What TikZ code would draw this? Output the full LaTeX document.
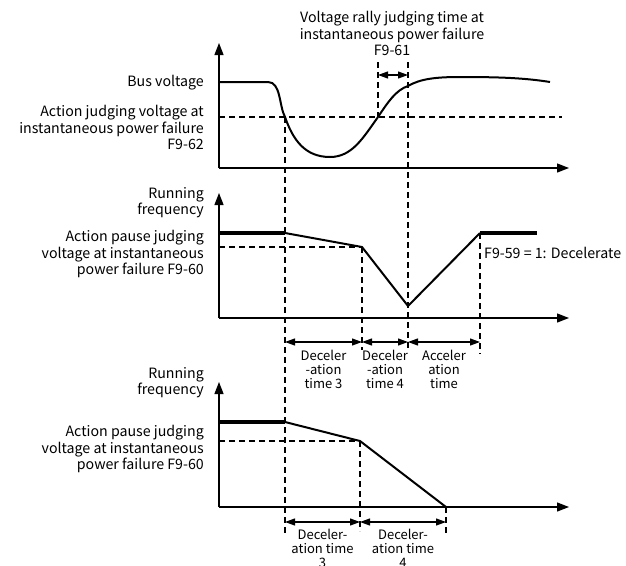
\documentclass[tikz,border=0pt]{standalone}
\usepackage{fontspec}
\setmainfont{Noto Sans CJK SC}
\usetikzlibrary{arrows.meta, positioning, calc}

\tikzset{
  % axes and curves
  axis/.style ={line width=1.3pt, -{Triangle[length=12pt,width=9pt]}},
  guide/.style={line width=1.1pt, dash pattern=on 6pt off 4pt},
  wave/.style ={line width=2pt},
  ramp/.style ={line width=2pt},
  hold/.style ={line width=3.8pt},
  % time spans
  span/.style ={line width=1.1pt,
                {Triangle[length=10pt,width=7pt]}-{Triangle[length=10pt,width=7pt]}},
  % texts
  lbl/.style  ={font=\fontsize{14.2}{16.5}\selectfont, align=right, inner sep=0pt},
  tlbl/.style ={font=\fontsize{13}{14}\selectfont, align=center, inner sep=0pt},
}

\begin{document}
\begin{tikzpicture}[x=1pt, y=-1pt]
\useasboundingbox (0,0) rectangle (626,565);

% ═══════════════════════════════════════════════════════════════
%  CHART 1 – Bus voltage
% ═══════════════════════════════════════════════════════════════
\coordinate (o1) at (219,168);
\coordinate (y1) at (219,43);
\coordinate (x1) at (569,168);
\draw[axis] (o1) -- (y1);
\draw[axis] (o1) -- (x1);

% threshold F9-62
\coordinate (th1L) at (219,117);
\coordinate (th1R) at (562,117);
\draw[guide] (th1L) -- (th1R);

% bus voltage curve
\coordinate (dropA) at (285,117);
\coordinate (riseA) at (378,117);
\coordinate (riseB) at (408,86);
\draw[wave] (219,82) -- (268,82)
  .. controls (281,82) and (279,106) .. (dropA)
  .. controls (293,140) and (305,157) .. (330,157)
  .. controls (352,157) and (363,138) .. (riseA)
  .. controls (388,102) and (396,90) .. (riseB)
  .. controls (420,79) and (435,77) .. (460,77)
  .. controls (500,77) and (525,78) .. (550,82);

% F9-61 window
\coordinate (f61L) at (378,62);
\coordinate (f61R) at (408,62);
\draw[guide] (f61L) -- (riseA);
\draw[span] ($(f61L)+(0,13)$) -- ($(f61R)+(0,13)$);

\node[lbl, anchor=east] (bus) at (204,83) {Bus voltage};
\node[lbl, anchor=north east] (act62) at (204,105)
  {Action judging voltage at\\instantaneous power failure\\F9-62};
\node[lbl, align=center, anchor=north] (rally) at (392,11)
  {Voltage rally judging time at\\instantaneous power failure\\F9-61};

% ═══════════════════════════════════════════════════════════════
%  CHART 2 – F9-59 = 1: Decelerate (recovery)
% ═══════════════════════════════════════════════════════════════
\coordinate (o2) at (219,318);
\coordinate (y2) at (219,193);
\coordinate (x2) at (569,318);
\draw[axis] (o2) -- (y2);
\draw[axis] (o2) -- (x2);

\coordinate (a2) at (219,233);
\coordinate (b2) at (285,233);
\coordinate (c2) at (362,247);
\coordinate (d2) at (408,306);
\coordinate (e2) at (480,233);
\coordinate (f2) at (537,233);
\draw[hold] (a2) -- (b2);
\draw[ramp, line join=miter] (b2) -- (c2) -- (d2) -- (e2);
\draw[hold] (e2) -- (f2);
\draw[guide] (219,247) -- (c2);

\node[lbl, anchor=north east] (run2) at (204,187) {Running\\frequency};
\node[lbl, anchor=north east] (act60a) at (204,230)
  {Action pause judging\\voltage at instantaneous\\power failure F9-60};
\node[lbl, anchor=west] (dec59) at (484,253) {F9-59 = 1: Decelerate};

% ═══════════════════════════════════════════════════════════════
%  CHART 3 – decelerate to stop
% ═══════════════════════════════════════════════════════════════
\coordinate (o3) at (219,507);
\coordinate (y3) at (219,382);
\coordinate (x3) at (569,507);
\draw[axis] (o3) -- (y3);
\draw[axis] (o3) -- (x3);

\coordinate (a3) at (219,422);
\coordinate (b3) at (285,422);
\coordinate (c3) at (360,441);
\coordinate (d3) at (446,507);
\draw[hold] (a3) -- (b3);
\draw[ramp, line join=miter] (b3) -- (c3) -- (d3);
\draw[guide] (219,441) -- (c3);

\node[lbl, anchor=north east] (run3) at (204,367) {Running\\frequency};
\node[lbl, anchor=north east] (act60b) at (204,425)
  {Action pause judging\\voltage at instantaneous\\power failure F9-60};

% ═══════════════════════════════════════════════════════════════
%  VERTICAL GUIDES AND TIME SPANS
% ═══════════════════════════════════════════════════════════════
\coordinate (g1) at (285,533);
\coordinate (g2) at (362,350);
\coordinate (g3) at (408,350);
\coordinate (g4) at (480,354);
\coordinate (g5) at (360,531);
\coordinate (g6) at (446,534);
\draw[guide] (dropA) -- (g1);
\draw[guide] (f61R) -- (g3);
\draw[guide] (c2) -- (g2);
\draw[guide] (e2) -- (g4);
\draw[guide] (c3) -- (g5);
\draw[guide] (d3) -- (g6);

% spans under chart 2
\draw[span] (285,342) -- node[tlbl, below=8pt] {Deceler\\-ation\\time 3} (362,342);
\draw[span] (362,342) -- node[tlbl, below=8pt] {Deceler\\-ation\\time 4} (408,342);
\draw[span] (408,342) -- node[tlbl, below=8pt] {Acceler\\ation\\time} (480,342);

% spans under chart 3
\draw[span] (285,522) -- node[tlbl, below=7pt] {Deceler-\\ation time\\3} (360,522);
\draw[span] (360,522) -- node[tlbl, below=7pt] {Deceler-\\ation time\\4} (446,522);

\end{tikzpicture}
\end{document}
